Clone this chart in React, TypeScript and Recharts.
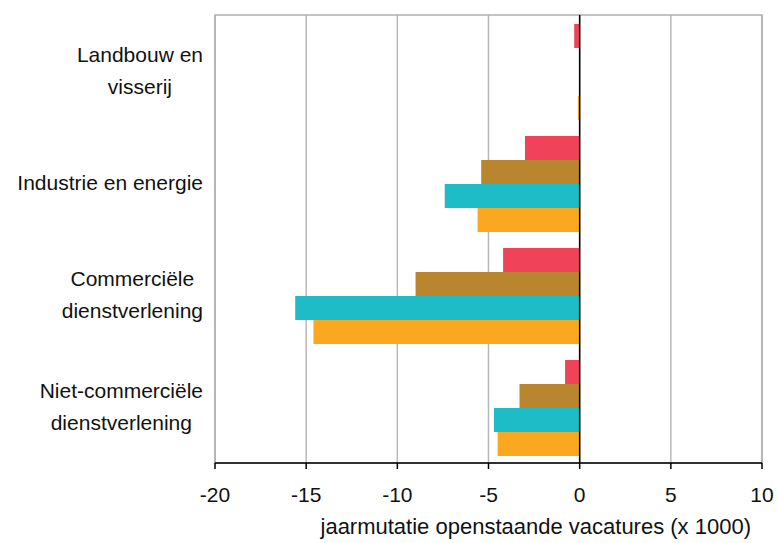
import { BarChart, Bar, XAxis, YAxis, CartesianGrid, ReferenceLine, ReferenceArea } from "recharts";

const categories = [
  "Landbouw en\nvisserij",
  "Industrie en energie",
  "Commerciële\ndienstverlening",
  "Niet-commerciële\ndienstverlening",
];
const serieRood = [-0.3, -3.0, -4.2, -0.8];
const serieBruin = [0, -5.4, -9.0, -3.3];
const serieBlauw = [0, -7.4, -15.6, -4.7];
const serieOranje = [-0.1, -5.6, -14.6, -4.5];
const xTicks = [-20, -15, -10, -5, 0, 5, 10];

const FONT = "'Liberation Sans', Arial, sans-serif";
const FS = 21;

const data = categories.map((c, i) => ({
  cat: c,
  rood: serieRood[i],
  bruin: serieBruin[i],
  blauw: serieBlauw[i],
  oranje: serieOranje[i],
}));

let ctx: CanvasRenderingContext2D | null = null;
function textWidth(s: string) {
  if (!ctx) ctx = document.createElement("canvas").getContext("2d");
  if (!ctx) return s.length * FS * 0.5;
  ctx.font = `${FS}px 'Liberation Sans'`;
  return ctx.measureText(s).width;
}

function CatTick(props: any) {
  const { x, y, payload } = props;
  const lines: string[] = String(payload.value).split("\n");
  const maxW = Math.max(...lines.map(textWidth));
  const right = x - 4;
  const cx = right - maxW / 2;
  const lh = 32;
  const y0 = y - ((lines.length - 1) * lh) / 2;
  return (
    <g>
      {lines.map((l, i) => (
        <text key={i} x={cx} y={y0 + i * lh} dy="0.35em" textAnchor="middle"
          fontFamily={FONT} fontSize={FS} fill="#111">
          {l}
        </text>
      ))}
    </g>
  );
}

function AxisTitle(props: any) {
  const { viewBox } = props;
  return (
    <text x={viewBox.x + viewBox.width - 11} y={viewBox.y + 71} textAnchor="end"
      fontFamily={FONT} fontSize={22} fill="#111">
      jaarmutatie openstaande vacatures (x 1000)
    </text>
  );
}

export default function App() {
  return (
    <div style={{ position: "absolute", left: 0, top: 0, background: "#fff" }}>
      <BarChart
        width={777}
        height={543}
        data={data}
        layout="vertical"
        margin={{ top: 15, right: 15, left: 0, bottom: 0 }}
        barCategoryGap="8%"
        barGap={0}
      >
        <CartesianGrid horizontal={false} stroke="#b8b8b8" strokeWidth={1.5} />
        <ReferenceArea x1={-20} x2={10} stroke="#b0b0b0" strokeWidth={1.5} fill="none" fillOpacity={0} />
        <XAxis
          type="number"
          domain={[-20, 10]}
          ticks={xTicks}
          height={80}
          tickSize={6}
          tickMargin={18}
          axisLine={{ stroke: "#000", strokeWidth: 1.5 }}
          tickLine={{ stroke: "#000", strokeWidth: 1.5 }}
          tick={{ fontFamily: FONT, fontSize: FS, fill: "#111" }}
          label={<AxisTitle />}
        />
        <YAxis
          type="category"
          dataKey="cat"
          width={215}
          axisLine={false}
          tickLine={false}
          tick={<CatTick />}
          interval={0}
        />
        <Bar dataKey="rood" fill="#F0435A" isAnimationActive={false} />
        <Bar dataKey="bruin" fill="#B9852F" isAnimationActive={false} />
        <Bar dataKey="blauw" fill="#1EBCC6" isAnimationActive={false} />
        <Bar dataKey="oranje" fill="#F9A81F" isAnimationActive={false} />
        <ReferenceLine x={0} stroke="#000" strokeWidth={1.5} />
      </BarChart>
    </div>
  );
}
